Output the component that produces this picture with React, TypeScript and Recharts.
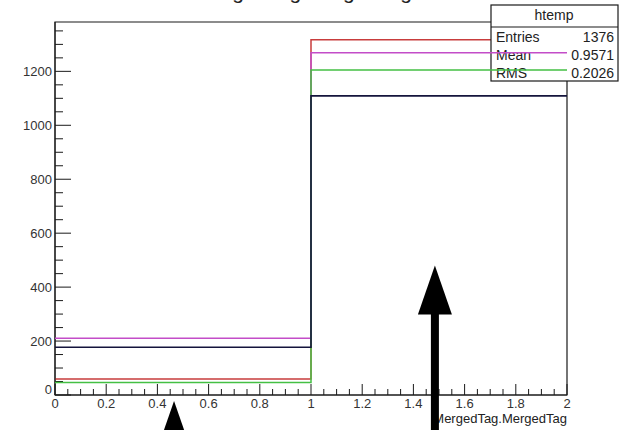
import React from "react";
import { ComposedChart, Line, XAxis, YAxis, ReferenceArea, ReferenceLine } from "recharts";

// bin edges and bin contents (two bins: [0,1) and [1,2))
const binEdges = [0, 1, 2];
const redCounts = [59, 1317];
const magentaCounts = [210, 1269];
const greenCounts = [46, 1205];
const navyCounts = [177, 1109];

const xMajorTicks = [0, 0.2, 0.4, 0.6, 0.8, 1, 1.2, 1.4, 1.6, 1.8, 2];
const xTickLabels = ["0", "0.2", "0.4", "0.6", "0.8", "1", "1.2", "1.4", "1.6", "1.8", "2"];
const yMajorTicks = [0, 200, 400, 600, 800, 1000, 1200];
const yMax = 1383;

// arrows drawn on the canvas (x position, tip value)
const arrowX = [0.465, 1.484];
const arrowTip = [-22, 480];

const statsLabels = ["Entries", "Mean", "RMS"];
const statsValues = ["1376", "0.9571", "0.2026"];

const W = 623;
const H = 430;
const FONT = '"Liberation Sans", Arial, Helvetica, sans-serif';
const NARROW = '"Liberation Sans Narrow", "Liberation Sans", Arial, sans-serif';
const margin = { top: 22, right: 56, left: 0, bottom: 0 };

// histogram as a step line: last edge repeats the last bin's content
const rows = binEdges.map((x, i) => {
  const k = Math.min(i, redCounts.length - 1);
  return {
    x,
    red: redCounts[k],
    magenta: magentaCounts[k],
    green: greenCounts[k],
    navy: navyCounts[k],
  };
});

const xTicks = Array.from({ length: 41 }, (_, i) => +(i * 0.05).toFixed(2));
const yTicks = Array.from({ length: 28 }, (_, i) => i * 50);

const isMajorX = (v: number) => xMajorTicks.some((m) => Math.abs(m - v) < 1e-6);

const XTick = (props: any) => {
  const { x, y, payload } = props;
  const v = payload.value;
  const major = isMajorX(v);
  const idx = xMajorTicks.findIndex((m) => Math.abs(m - v) < 1e-6);
  return (
    <g>
      <line x1={x} y1={y} x2={x} y2={y - (major ? 11 : 6)} stroke="#1a1a1a" />
      {major && (
        <text x={x} y={y + 13} textAnchor="middle" fontSize={13} fill="#333" fontFamily={FONT}>
          {xTickLabels[idx]}
        </text>
      )}
    </g>
  );
};

const YTick = (props: any) => {
  const { x, y, payload } = props;
  const v = payload.value;
  const major = yMajorTicks.includes(v);
  return (
    <g>
      <line x1={x} y1={y} x2={x + (major ? 16 : 8)} y2={y} stroke="#1a1a1a" />
      {major && (
        <text
          x={x - 3}
          y={v === 0 ? y - 1 : y + 4.5}
          textAnchor="end"
          fontSize={13}
          fill="#333"
          fontFamily={FONT}
        >
          {v}
        </text>
      )}
    </g>
  );
};

const AxisTitle = (props: any) => {
  const vb = props.viewBox || {};
  return (
    <text x={vb.x + vb.width} y={vb.y + 28} textAnchor="end" fontSize={13} fill="#222" fontFamily={FONT}>
      MergedTag.MergedTag
    </text>
  );
};

const Arrow = (props: any) => {
  const { x1, y1, y2 } = props;
  return (
    <g>
      <polygon points={`${x1},${y1} ${x1 - 17},${y1 + 49} ${x1 + 17},${y1 + 49}`} fill="#000" />
      <rect x={x1 - 4} y={y1 + 48} width={8} height={Math.max(0, y2 - y1 - 48)} fill="#000" />
    </g>
  );
};

export default function App() {
  return (
    <div
      style={{
        position: "absolute",
        left: 0,
        top: 0,
        width: W,
        height: H,
        background: "#fff",
        overflow: "hidden",
        fontFamily: FONT,
      }}
    >
      {/* title, cut off by the top of the canvas */}
      <svg width={W} height={30} style={{ position: "absolute", left: 0, top: 0 }}>
        <text x={304} y={-1} textAnchor="middle" fontSize={21} fill="#222" fontFamily={FONT}>
          MergedTag.MergedTag
        </text>
      </svg>

      {/* bottom layer: frame, axes, the red histogram */}
      <div style={{ position: "absolute", left: 0, top: 0 }}>
        <ComposedChart width={W} height={H} data={rows} margin={margin}>
          <XAxis
            dataKey="x"
            type="number"
            domain={[0, 2]}
            ticks={xTicks}
            interval={0}
            height={35}
            tickLine={false}
            tickSize={0}
            tickMargin={0}
            axisLine={{ stroke: "#1a1a1a" }}
            tick={XTick}
            label={AxisTitle}
          />
          <YAxis
            type="number"
            domain={[0, yMax]}
            ticks={yTicks}
            interval={0}
            width={55}
            tickLine={false}
            tickSize={0}
            tickMargin={0}
            axisLine={{ stroke: "#1a1a1a" }}
            tick={YTick}
            allowDataOverflow
          />
          <ReferenceArea x1={0} x2={2} y1={0} y2={yMax} fill="none" stroke="#1a1a1a" strokeWidth={1.2} />
          <Line
            dataKey="red"
            type="stepAfter"
            stroke="#c83c3c"
            strokeWidth={1.5}
            dot={false}
            isAnimationActive={false}
          />
        </ComposedChart>
      </div>

      {/* stats box */}
      <svg width={130} height={80} style={{ position: "absolute", left: 490, top: 4 }}>
        <rect x={1} y={1} width={127} height={76} fill="#fff" stroke="#1a1a1a" strokeWidth={1.2} />
        <line x1={1} y1={23} x2={128} y2={23} stroke="#1a1a1a" strokeWidth={1.2} />
        <text x={64} y={16} textAnchor="middle" fontSize={14} fill="#222" fontFamily={NARROW}>
          htemp
        </text>
        {statsLabels.map((s, i) => (
          <g key={s}>
            <text x={6} y={38 + i * 18} fontSize={14} fill="#222" fontFamily={NARROW}>
              {s}
            </text>
            <text x={124} y={38 + i * 18} textAnchor="end" fontSize={14} fill="#222" fontFamily={NARROW}>
              {statsValues[i]}
            </text>
          </g>
        ))}
      </svg>

      {/* top layer: the other histograms and the arrows */}
      <div style={{ position: "absolute", left: 0, top: 0 }}>
        <ComposedChart width={W} height={H} data={rows} margin={margin}>
          <XAxis
            dataKey="x"
            type="number"
            domain={[0, 2]}
            height={35}
            tick={false}
            tickLine={false}
            axisLine={false}
          />
          <YAxis type="number" domain={[0, yMax]} width={55} tick={false} tickLine={false} axisLine={false} allowDataOverflow />
          <Line
            dataKey="magenta"
            type="stepAfter"
            stroke="#c34dc8"
            strokeWidth={1.5}
            dot={false}
            isAnimationActive={false}
          />
          <Line
            dataKey="green"
            type="stepAfter"
            stroke="#44c044"
            strokeWidth={1.5}
            dot={false}
            isAnimationActive={false}
          />
          <Line
            dataKey="navy"
            type="stepAfter"
            stroke="#14143c"
            strokeWidth={1.6}
            dot={false}
            isAnimationActive={false}
          />
          {arrowX.map((ax, i) => (
            <ReferenceLine
              key={i}
              segment={[
                { x: ax, y: arrowTip[i] },
                { x: ax, y: -400 },
              ]}
              ifOverflow="visible"
              shape={Arrow}
            />
          ))}
        </ComposedChart>
      </div>
    </div>
  );
}
